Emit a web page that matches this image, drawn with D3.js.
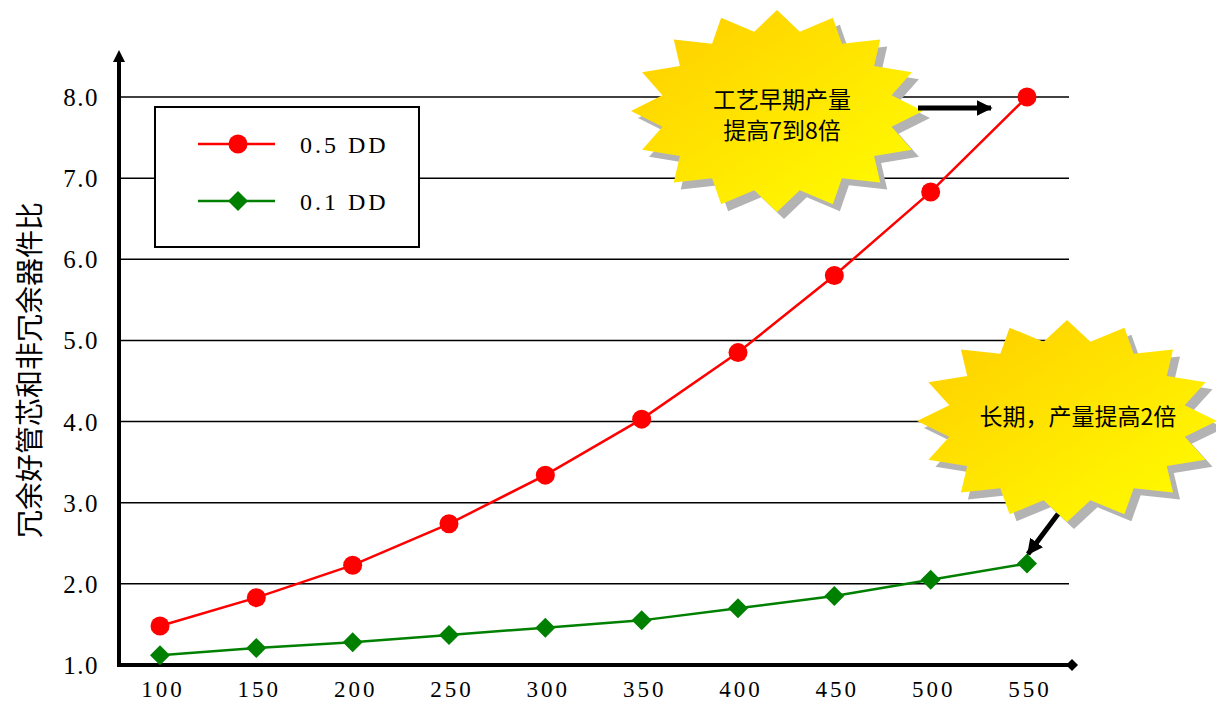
<!DOCTYPE html>
<html><head><meta charset="utf-8">
<script src="https://cdn.jsdelivr.net/npm/d3@7"></script>
<style>body{margin:0;background:#fff}svg{display:block}</style>
</head><body>
<svg id="chart" width="1216" height="704"></svg>
<script>
const categories = [100,150,200,250,300,350,400,450,500,550];
const dd05 = [1.48,1.83,2.23,2.74,3.34,4.03,4.85,5.80,6.83,8.0];
const dd01 = [1.12,1.21,1.28,1.37,1.46,1.55,1.70,1.85,2.05,2.25];
const yTicks = [1,2,3,4,5,6,7,8];
const seriesNames = ["0.5 DD","0.1 DD"];
const yTitle = "冗余好管芯和非冗余器件比";
const burstTexts = [["工艺早期产量","提高7到8倍"],["长期，产量提高2倍"]];

const svg = d3.select("#chart");
const serif = "'Liberation Serif','DejaVu Serif',serif";
const cjk = "'Noto Sans CJK SC','Noto Sans CJK JP',sans-serif";

const x = d3.scalePoint().domain(categories).range([160,1027]);
const y = d3.scaleLinear().domain([1,8]).range([665,97]);

const defs = svg.append("defs");
const g = defs.append("linearGradient").attr("id","burst").attr("x1","0").attr("y1","0").attr("x2","1").attr("y2","1");
g.append("stop").attr("offset","0").attr("stop-color","#FFCC00");
g.append("stop").attr("offset","1").attr("stop-color","#FFFF00");
defs.append("marker").attr("id","ah").attr("viewBox","0 0 10 10").attr("refX",9).attr("refY",5)
  .attr("markerWidth",3.2).attr("markerHeight",3.2).attr("orient","auto")
  .append("path").attr("d","M0,0L10,5L0,10z").attr("fill","#000");

// horizontal grid
svg.append("g").selectAll("line").data(yTicks.slice(1)).join("line")
  .attr("x1",119).attr("x2",1069).attr("y1",d=>y(d)).attr("y2",d=>y(d))
  .attr("stroke","#000").attr("stroke-width",1.5);

// y axis tick labels
svg.append("g").selectAll("text").data(yTicks).join("text")
  .attr("x",99).attr("y",d=>y(d)+9).attr("text-anchor","end")
  .attr("font-family",serif).attr("font-size",25).attr("letter-spacing",1.5).attr("fill","#000")
  .text(d=>d.toFixed(1));

// x axis tick labels
svg.append("g").selectAll("text").data(categories).join("text")
  .attr("x",d=>x(d)+3).attr("y",697).attr("text-anchor","middle")
  .attr("font-family",serif).attr("font-size",23).attr("letter-spacing",3).attr("fill","#000")
  .text(d=>d);

// axes
svg.append("line").attr("x1",119).attr("x2",119).attr("y1",667).attr("y2",58).attr("stroke","#000").attr("stroke-width",4);
svg.append("path").attr("d","M119,50L113,62L125,62z").attr("fill","#000");
svg.append("line").attr("x1",117).attr("x2",1070).attr("y1",665).attr("y2",665).attr("stroke","#000").attr("stroke-width",4);
svg.append("path").attr("d","M1066,665L1072,659L1078,665L1072,671z").attr("fill","#000");

// y title
svg.append("text").attr("transform","translate(40,370) rotate(-90)").attr("text-anchor","middle")
  .attr("font-family",cjk).attr("font-size",28).attr("fill","#000").text(yTitle);

// lines
const line = d3.line().x((d,i)=>x(categories[i])).y(d=>y(d));
svg.append("path").datum(dd05).attr("d",line).attr("fill","none").attr("stroke","#FF0000").attr("stroke-width",2.5);
svg.append("path").datum(dd01).attr("d",line).attr("fill","none").attr("stroke","#008000").attr("stroke-width",2.5);
svg.append("g").selectAll("circle").data(dd05).join("circle")
  .attr("cx",(d,i)=>x(categories[i])).attr("cy",d=>y(d)).attr("r",9.5).attr("fill","#FF0000");
const diamond = "M0,-10L10,0L0,10L-10,0Z";
svg.append("g").selectAll("path").data(dd01).join("path")
  .attr("transform",(d,i)=>`translate(${x(categories[i])},${y(d)})`).attr("d",diamond).attr("fill","#008000");

// legend
const lg = svg.append("g");
lg.append("rect").attr("x",155).attr("y",107).attr("width",264).attr("height",140).attr("fill","#fff").attr("stroke","#000").attr("stroke-width",2);
const legY = [144,201];
lg.append("line").attr("x1",198).attr("x2",275).attr("y1",legY[0]).attr("y2",legY[0]).attr("stroke","#FF0000").attr("stroke-width",2.5);
lg.append("circle").attr("cx",238).attr("cy",legY[0]).attr("r",9.5).attr("fill","#FF0000");
lg.append("line").attr("x1",198).attr("x2",275).attr("y1",legY[1]).attr("y2",legY[1]).attr("stroke","#008000").attr("stroke-width",2.5);
lg.append("path").attr("transform",`translate(238,${legY[1]})`).attr("d",diamond).attr("fill","#008000");
lg.selectAll("text").data(seriesNames).join("text")
  .attr("x",300).attr("y",(d,i)=>legY[i]+9).attr("font-family",serif).attr("font-size",24).attr("letter-spacing",3).attr("fill","#000")
  .text(d=>d);

// starburst callouts
function burstPath(cx,cy,rx,ry,n,k){
  const pts=[];
  for(let i=0;i<2*n;i++){
    const a=-Math.PI/2+i*Math.PI/n;
    const f=i%2===0?1:k;
    pts.push([cx+Math.cos(a)*rx*f, cy+Math.sin(a)*ry*f]);
  }
  return d3.line()(pts)+"Z";
}
function burst(cx,cy,rx,ry,lines,tx,ty){
  svg.append("path").attr("d",burstPath(cx+7,cy+7,rx,ry,16,0.8)).attr("fill","#B3B3B3");
  svg.append("path").attr("d",burstPath(cx,cy,rx,ry,16,0.8)).attr("fill","url(#burst)");
  svg.append("g").selectAll("text").data(lines).join("text")
    .attr("x",tx).attr("y",(d,i)=>ty+i*31).attr("text-anchor","middle")
    .attr("font-family",cjk).attr("font-size",23).attr("fill","#000").text(d=>d);
}
burst(777,111,146,101,burstTexts[0],782,108);
burst(1067,421,150,101,burstTexts[1],1078,425);

// arrows
svg.append("line").attr("x1",918).attr("y1",108).attr("x2",991).attr("y2",108)
  .attr("stroke","#000").attr("stroke-width",5).attr("marker-end","url(#ah)");
svg.append("line").attr("x1",1058).attr("y1",514).attr("x2",1028).attr("y2",554)
  .attr("stroke","#000").attr("stroke-width",5).attr("marker-end","url(#ah)");
</script>
</body></html>
